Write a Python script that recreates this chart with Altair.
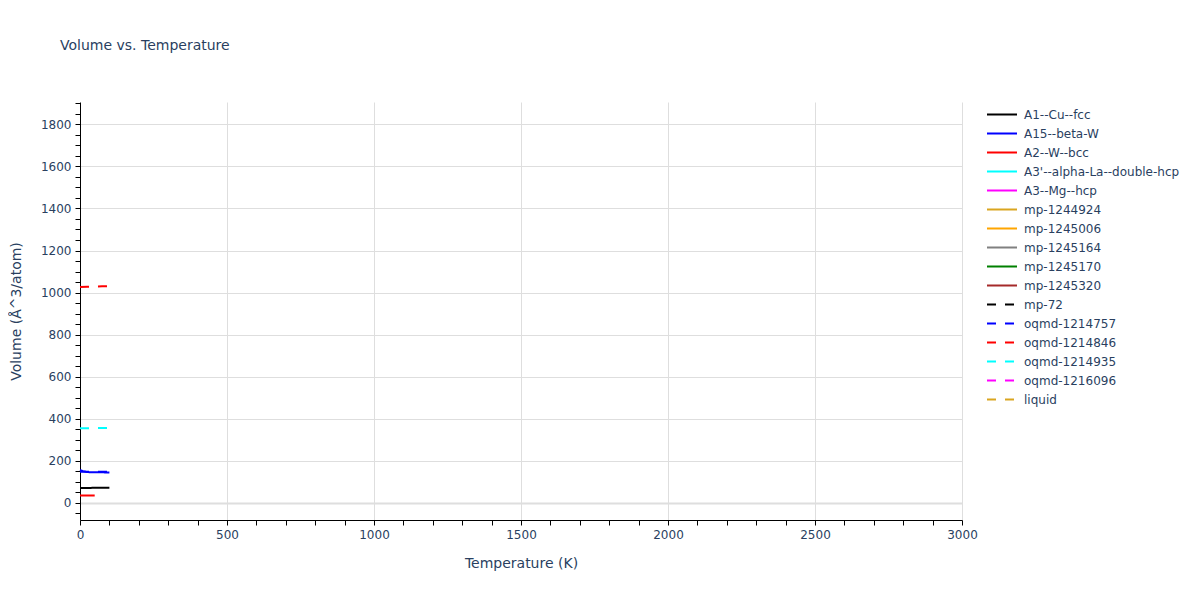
import pandas as pd
import altair as alt

names = ["A1--Cu--fcc", "A15--beta-W", "A2--W--bcc", "A3'--alpha-La--double-hcp",
         "A3--Mg--hcp", "mp-1244924", "mp-1245006", "mp-1245164", "mp-1245170",
         "mp-1245320", "mp-72", "oqmd-1214757", "oqmd-1214846", "oqmd-1214935",
         "oqmd-1216096", "liquid"]
colors = ["black", "blue", "red", "cyan", "magenta", "goldenrod", "orange", "gray",
          "green", "brown", "black", "blue", "red", "cyan", "magenta", "goldenrod"]
dashes = [[1, 0]] * 10 + [[9, 9]] * 6

# series (temperature K, volume A^3/atom)
a1_T = [0, 25, 50, 75, 100]
a1_V = [71.5, 71.6, 71.8, 72.0, 72.2]
a15_T = [0, 10, 20, 30, 50, 75, 100]
a15_V = [157, 151, 148, 146.5, 146, 145.5, 145]
a2_T = [0, 25, 50]
a2_V = [35.5, 35.8, 36.0]
oq757_T = [0, 25, 50, 75, 100]
oq757_V = [148, 148, 148.2, 148.3, 148.5]
oq846_T = [0, 25, 50, 75, 100]
oq846_V = [1027, 1028, 1029, 1030, 1031]
oq935_T = [0, 25, 50, 75, 100]
oq935_V = [355, 355.5, 356, 356.5, 357]

series = {
    "A1--Cu--fcc": (a1_T, a1_V),
    "A15--beta-W": (a15_T, a15_V),
    "A2--W--bcc": (a2_T, a2_V),
    "oqmd-1214757": (oq757_T, oq757_V),
    "oqmd-1214846": (oq846_T, oq846_V),
    "oqmd-1214935": (oq935_T, oq935_V),
}
rows = []
for name, (ts, vs) in series.items():
    for t, v in zip(ts, vs):
        rows.append({"name": name, "T": t, "V": v})
df = pd.DataFrame(rows)

font = "DejaVu Sans"
txt = "#2a3f5f"

x_axis = alt.Axis(
    values=list(range(0, 3001, 100)),
    labelExpr="datum.value % 500 === 0 ? datum.label : ''",
    format="d",
    title="Temperature (K)",
    gridOpacity={"condition": {"test": "datum.value % 500 === 0 && datum.value > 0", "value": 1}, "value": 0},
    gridColor="#dedede",
    domainColor="black",
    tickColor="black",
    tickSize=5,
    labelPadding=4,
    labelFlush=False,
    titlePadding=16,
    labelFontSize=12,
    titleFontSize=14,
    titleFontWeight="normal",
    labelColor=txt,
    titleColor=txt,
    labelFont=font,
    titleFont=font,
)
y_axis = alt.Axis(
    values=list(range(-50, 1901, 50)),
    labelExpr="datum.value % 200 === 0 ? datum.label : ''",
    format="d",
    title="Volume (Å^3/atom)",
    gridOpacity={"condition": {"test": "datum.value % 200 === 0", "value": 1}, "value": 0},
    gridWidth={"condition": {"test": "datum.value === 0", "value": 2}, "value": 1},
    gridColor="#dedede",
    domainColor="black",
    tickColor="black",
    tickSize=5,
    labelPadding=4,
    labelFlush=False,
    titlePadding=17,
    labelFontSize=12,
    titleFontSize=14,
    titleFontWeight="normal",
    labelColor=txt,
    titleColor=txt,
    labelFont=font,
    titleFont=font,
)

legend = alt.Legend(
    title=None,
    orient="none",
    legendX=906,
    legendY=4,
    padding=0,
    symbolType="stroke",
    symbolSize=900,
    symbolStrokeWidth=2,
    clipHeight=17,
    rowPadding=2,
    labelOffset=6,
    labelFontSize=12,
    labelColor=txt,
    labelFont=font,
    labelLimit=300,
)

chart = alt.Chart(df).mark_line(strokeWidth=2).encode(
    x=alt.X("T:Q", scale=alt.Scale(domain=[0, 3000], nice=False), axis=x_axis),
    y=alt.Y("V:Q", scale=alt.Scale(domain=[-81, 1906], nice=False, zero=False), axis=y_axis),
    color=alt.Color("name:N", scale=alt.Scale(domain=names, range=colors), legend=legend),
    strokeDash=alt.StrokeDash("name:N", scale=alt.Scale(domain=names, range=dashes), legend=legend),
    detail="name:N",
).properties(
    width=882,
    height=418,
    title=alt.TitleParams("Volume vs. Temperature", anchor="start", frame="group", dx=-20,
                          offset=38, baseline="alphabetic", fontSize=14, font=font,
                          color=txt, fontWeight="normal"),
    autosize=alt.AutoSizeParams(type="none"),
    padding={"left": 72, "top": 94, "right": 230, "bottom": 72},
).configure_view(stroke=None)

chart.save("out.html", embed_options={"renderer": "svg", "actions": False})
